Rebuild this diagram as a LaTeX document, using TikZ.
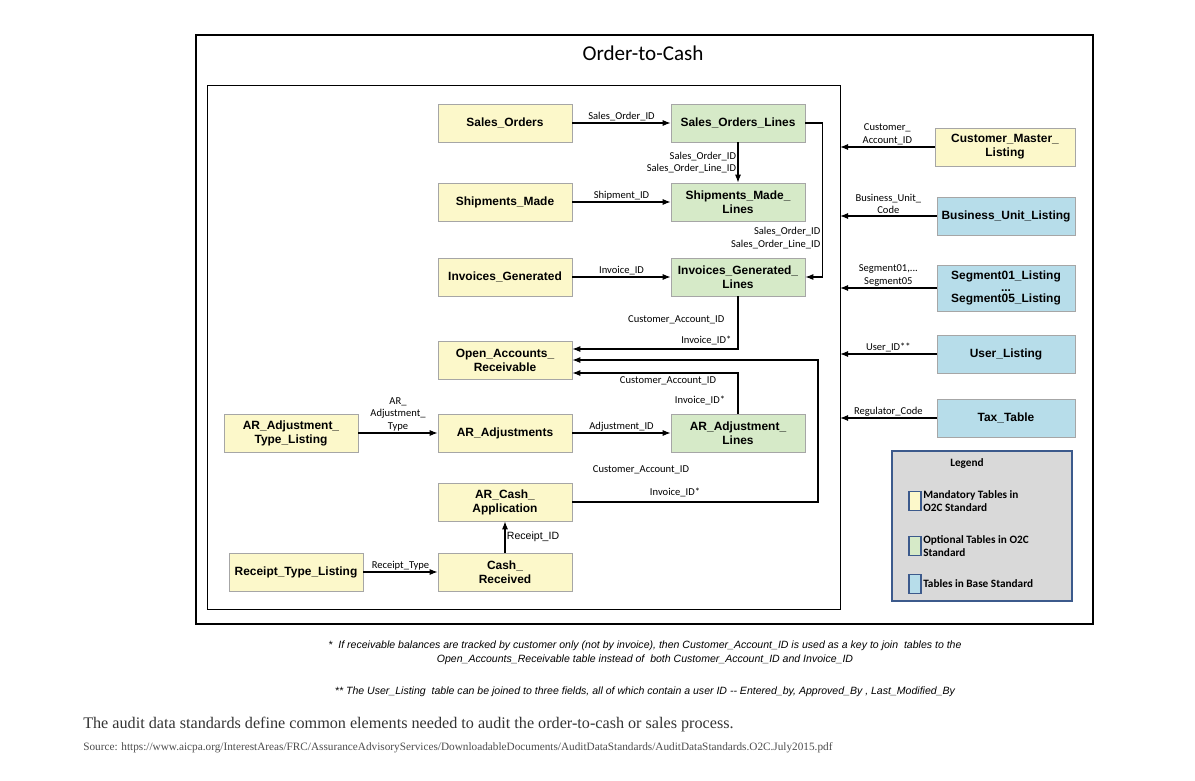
\documentclass[tikz,border=0pt]{standalone}
\usepackage{fontspec}
\setmainfont{Liberation Serif}
\newfontfamily\arialfont{Liberation Sans}
\newfontfamily\carlitofont{Carlito}
\usetikzlibrary{positioning, arrows.meta, calc}
\definecolor{mandcolor}{RGB}{252, 248, 202}
\definecolor{optcolor}{RGB}{214, 234, 200}
\definecolor{basecolor}{RGB}{183, 221, 234}
\definecolor{legendcolor}{RGB}{217, 217, 217}
\definecolor{legendedge}{RGB}{60, 90, 140}

\begin{document}
\begin{tikzpicture}[x=0.025cm, y=-0.025cm,
    tbl/.style={rectangle, draw=gray!70, minimum width=3.35cm, minimum height=0.95cm, align=center, font=\arialfont\fontsize{8.5}{10}\selectfont\bfseries, inner sep=1pt},
    mand/.style={tbl, fill=mandcolor},
    opt/.style={tbl, fill=optcolor},
    base/.style={tbl, fill=basecolor, minimum width=3.45cm},
    key/.style={font=\carlitofont\fontsize{7.5}{9}\selectfont, align=center, inner sep=1pt},
    arrow/.style={-{Latex[length=2mm]}, thick},
    note/.style={font=\arialfont\itshape\fontsize{7.5}{9}\selectfont, align=center},
]
\useasboundingbox (0,0) rectangle (1195,781);

% Frames
\draw[thick] (196,35) rectangle (1093,624);
\draw (207,85) rectangle (840,609);
\coordinate (rx) at (840,0);
\node[font=\carlitofont\fontsize{15}{18}\selectfont] (title) at (643,53) {Order-to-Cash};

% Tables
\node[mand] (so) at (505,123) {Sales\_Orders};
\node[opt] (sol) at (738,123) {Sales\_Orders\_Lines};
\node[mand] (sm) at (505,202) {Shipments\_Made};
\node[opt] (sml) at (738,202) {Shipments\_Made\_\\Lines};
\node[mand] (ig) at (505,277) {Invoices\_Generated};
\node[opt] (igl) at (738,277) {Invoices\_Generated\_\\Lines};
\node[mand] (oar) at (505,360) {Open\_Accounts\_\\Receivable};
\node[mand] (aatl) at (291,433) {AR\_Adjustment\_\\Type\_Listing};
\node[mand] (aa) at (505,433) {AR\_Adjustments};
\node[opt] (aal) at (738,433) {AR\_Adjustment\_\\Lines};
\node[mand] (aca) at (505,502) {AR\_Cash\_\\Application};
\node[mand] (rtl) at (296,572) {Receipt\_Type\_Listing};
\node[mand] (cr) at (505,572) {Cash\_\\Received};

% Base tables
\node[mand, minimum width=3.5cm] (cml) at (1005,147) {Customer\_Master\_\\Listing};
\node[base] (bul) at (1006,216) {Business\_Unit\_Listing};
\node[base, minimum height=1.15cm] (seg) at (1006,288) {Segment01\_Listing\\[-2pt]...\\[-2pt]Segment05\_Listing};
\node[base] (ul) at (1006,354) {User\_Listing};
\node[base] (tax) at (1006,418) {Tax\_Table};

% Arrows
\draw[arrow] (so) -- node[key, above] {Sales\_Order\_ID} (sol);
\draw[arrow] (sm) -- node[key, above] {Shipment\_ID} (sml);
\draw[arrow] (ig) -- node[key, above] {Invoice\_ID} (igl);
\draw[arrow] (sol) -- node[key, left, align=right] {Sales\_Order\_ID\\Sales\_Order\_Line\_ID} (sml);
\draw[arrow] (sol.east) -- ++(17,0) |- (igl.east);
\node[key, align=right, anchor=east] (k1) at (822,238) {Sales\_Order\_ID\\Sales\_Order\_Line\_ID};
\draw[arrow] (igl.south) |- ($(oar.east)+(0,-11)$);
\node[key, anchor=east] (k2) at (726,320) {Customer\_Account\_ID};
\node[key, anchor=east] (k3) at (733,340) {Invoice\_ID*};
\draw[arrow] (aal.north) |- ($(oar.east)+(0,13)$);
\node[key] (k4) at (668,381) {Customer\_Account\_ID};
\node[key] (k5) at (700,400) {Invoice\_ID*};
\draw[arrow] (aca.east) -- (818,502) |- (oar.east);
\node[key] (k6) at (641,470) {Customer\_Account\_ID};
\node[key] (k7) at (675,492) {Invoice\_ID*};
\draw[arrow] (aatl) -- node[key, above] {AR\_\\Adjustment\_\\Type} (aa);
\draw[arrow] (aa) -- node[key, above] {Adjustment\_ID} (aal);
\draw[arrow] (rtl) -- node[key, above] {Receipt\_Type} (cr);
\draw[arrow] (cr) -- node[key, right, font=\arialfont\fontsize{7.5}{9}\selectfont] {Receipt\_ID} (aca);

% Right side links
\foreach \t/\lbl in {cml/{Customer\_\\Account\_ID}, bul/{Business\_Unit\_\\Code}, seg/{Segment01,...\\Segment05}, ul/{User\_ID**}, tax/{Regulator\_Code}}
  \draw[arrow] (\t.west) -- (\t.west -| rx) node[key, above, midway] {\lbl};

% Legend
\node[draw=legendedge, very thick, fill=legendcolor, minimum width=4.5cm, minimum height=3.75cm] (legend) at (982,526) {};
\node[font=\carlitofont\bfseries\fontsize{8}{10}\selectfont] (lgt) at (967,464) {Legend};
\foreach \y/\c/\txt in {501/mandcolor/{Mandatory Tables in\\O2C Standard}, 546/optcolor/{Optional Tables in O2C\\Standard}, 584/basecolor/{Tables in Base Standard}} {
  \node[draw=legendedge, thick, fill=\c, minimum width=0.3cm, minimum height=0.48cm, inner sep=0pt] (sq\y) at (915,\y) {};
  \node[anchor=west, align=left, font=\carlitofont\bfseries\fontsize{8}{9.5}\selectfont, inner sep=1pt] at (sq\y.east) {\txt};
}

% Footnotes
\node[note] (fn1) at (645,653) {*\ \ If receivable balances are tracked by customer only (not by invoice), then Customer\_Account\_ID is used as a key to join\ \ tables to the\\[1pt]Open\_Accounts\_Receivable table instead of\ \ both Customer\_Account\_ID and Invoice\_ID};
\node[note] (fn2) at (645,692) {** The User\_Listing\ \ table can be joined to three fields, all of which contain a user ID -- Entered\_by, Approved\_By , Last\_Modified\_By};
\node[anchor=west, font=\fontsize{11.5}{13}\selectfont, text=black!80, inner sep=0pt] (cap) at (83,725) {The audit data standards define common elements needed to audit the order-to-cash or sales process.};
\node[anchor=west, font=\fontsize{8}{10}\selectfont, text=black!70, inner sep=0pt] (src) at (83,748) {Source: https://www.aicpa.org/InterestAreas/FRC/AssuranceAdvisoryServices/DownloadableDocuments/AuditDataStandards/AuditDataStandards.O2C.July2015.pdf};
\end{tikzpicture}
\end{document}
